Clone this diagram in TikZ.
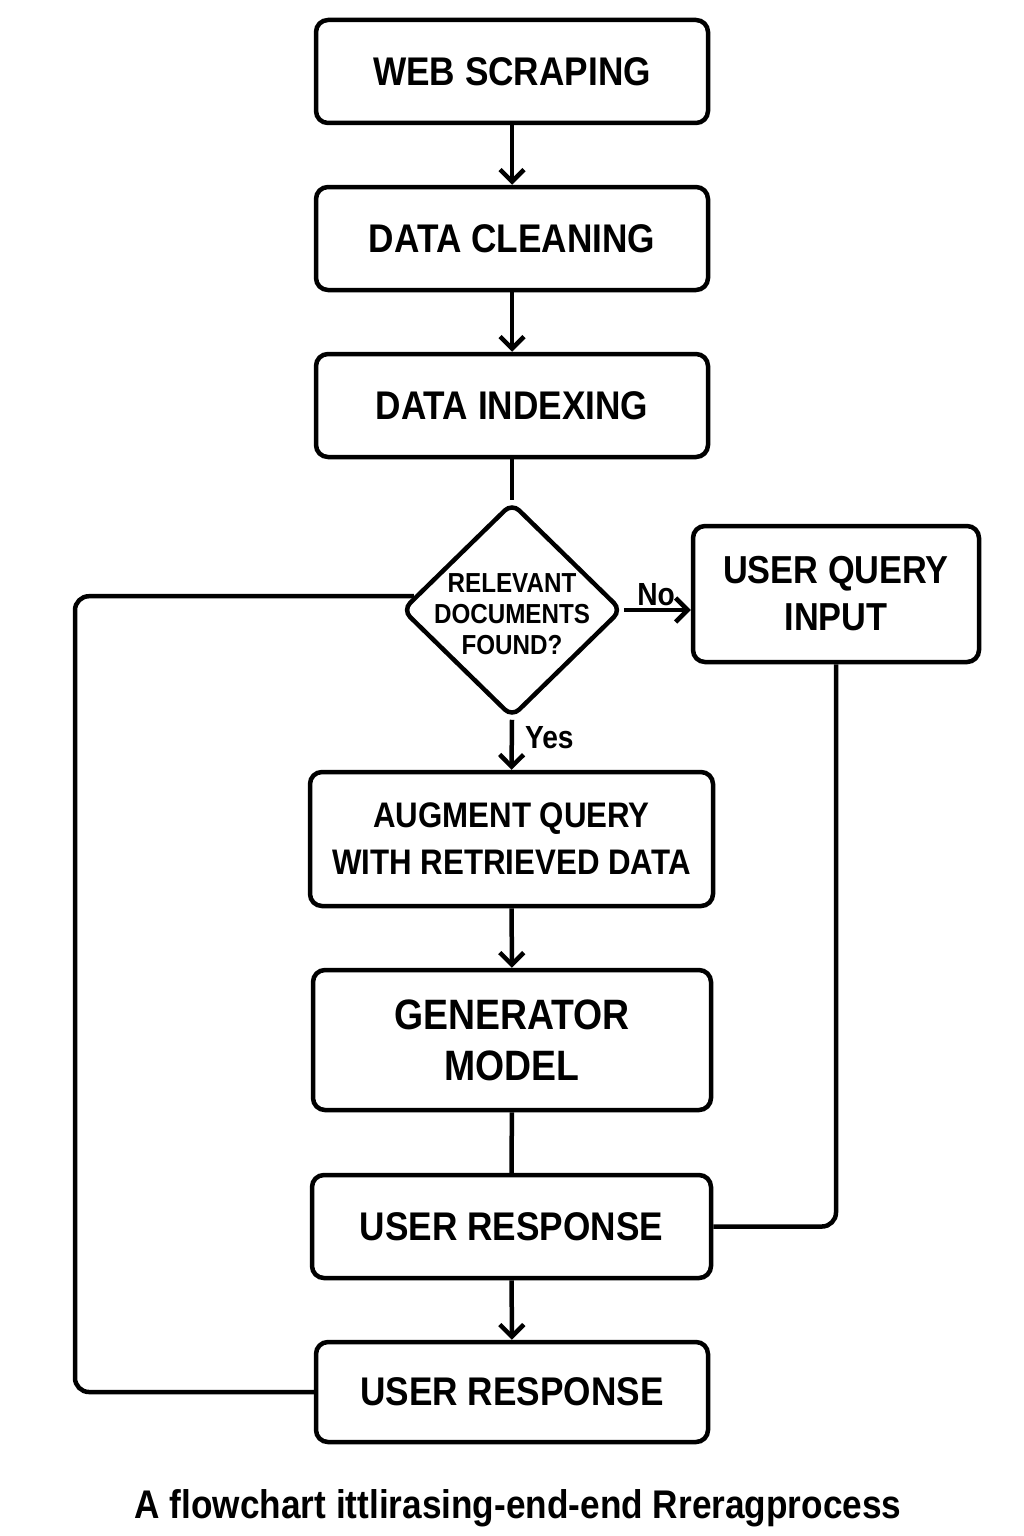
\documentclass[tikz,border=0pt]{standalone}
\usepackage{fontspec}
\setmainfont{Liberation Sans}[FakeStretch=0.88]
\usetikzlibrary{arrows.meta}
\usetikzlibrary{shapes.geometric}
\usepackage{amsmath}

\begin{document}
\begin{tikzpicture}[
        x=1pt, y=-1pt,
        line width=4.5pt,
        stage/.style={draw, rounded corners=12pt, align=center, inner sep=0pt,
            font=\bfseries\fontsize{40}{47}\selectfont},
        decision/.style={draw, diamond, rounded corners=10pt, inner sep=0pt,
            minimum width=220pt, minimum height=215pt},
        flow/.style={-{Straight Barb[length=12pt,width=24pt]}},
        link/.style={rounded corners=14pt},
        tag/.style={font=\bfseries\fontsize{32}{36}\selectfont, inner sep=2pt}
    ]
    \useasboundingbox (0,0) rectangle (1024,1536);

    \node[stage, minimum width=392pt, minimum height=103pt] (scrape) at (512,71.5) {WEB SCRAPING};
    \node[stage, minimum width=392pt, minimum height=103pt] (clean) at (512,238.5) {DATA CLEANING};
    \node[stage, minimum width=392pt, minimum height=103pt] (index) at (512,405.5) {DATA INDEXING};
    \node[decision, label={[align=center, inner sep=0pt, yshift=-4pt,
            font=\bfseries\fontsize{27.5}{31}\selectfont]center:RELEVANT\\DOCUMENTS\\FOUND?}]
        (found) at (512,610) {};
    \node[stage, minimum width=286pt, minimum height=136pt,
        font=\bfseries\fontsize{39}{47}\selectfont] (query) at (836,594) {USER QUERY\\INPUT};
    \node[stage, minimum width=403pt, minimum height=134pt,
        font=\bfseries\fontsize{35.5}{47}\selectfont] (augment) at (511.5,839) {AUGMENT QUERY\\WITH RETRIEVED DATA};
    \node[stage, minimum width=398pt, minimum height=140pt,
        font=\bfseries\fontsize{42.5}{51}\selectfont] (generator) at (512,1040) {GENERATOR\\MODEL};
    \node[stage, minimum width=399pt, minimum height=103pt] (response) at (511.5,1226.5) {USER RESPONSE};
    \node[stage, minimum width=392pt, minimum height=100pt] (final) at (512,1392) {USER RESPONSE};

    \node[font=\bfseries\fontsize{40}{46}\selectfont] (caption) at (518,1508)
        {A flowchart ittlirasing-end-end Rreragprocess};

    \draw[flow] (scrape) -- (clean);
    \draw[flow] (clean) -- (index);
    \draw (index) -- (found.north);
    \draw[flow] (found.east) -- (found.east -| query.west)
        node[tag, above, pos=0.48] {No};
    \draw[flow] (found.south) -- (augment.north)
        node[tag, right=9pt, pos=0.36] {Yes};
    \draw[flow] (augment) -- (generator);
    \draw (generator) -- (response);
    \draw[flow] (response) -- (final);

    \draw[link] (query.south) |- (response.east);
    \coordinate (loopleft) at (75,1392);
    \draw[link] (final.west) -- (loopleft) |- (found.172);
\end{tikzpicture}
\end{document}
